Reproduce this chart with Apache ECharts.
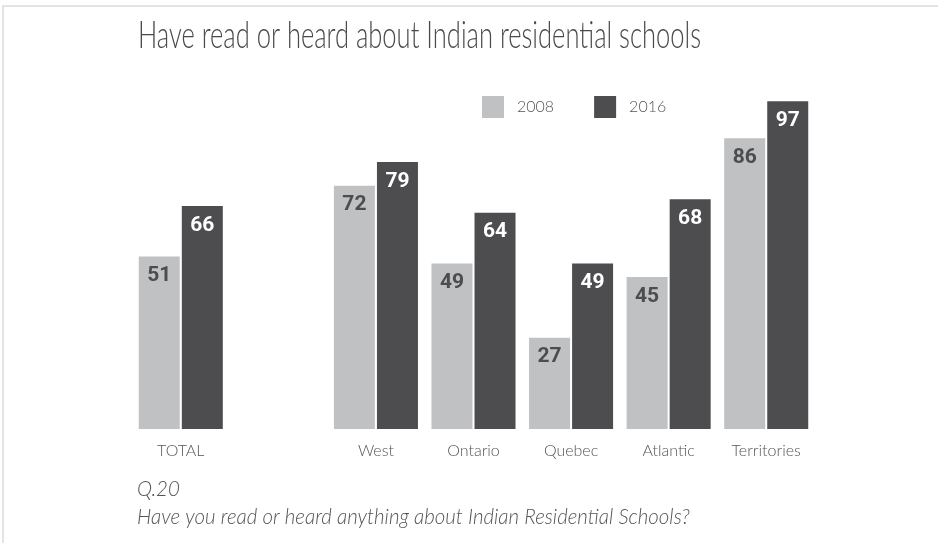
<!DOCTYPE html>
<html>
<head>
<meta charset="utf-8">
<script src="https://cdn.jsdelivr.net/npm/echarts@6/dist/echarts.min.js"></script>
<style>
  html, body { margin: 0; padding: 0; background: #fff; }
  #chart { width: 938px; height: 543px; }
</style>
</head>
<body>
<div id="chart"></div>
<script>
// regions (blank slot keeps the gap after TOTAL)
const regions = ['TOTAL', '', 'West', 'Ontario', 'Quebec', 'Atlantic', 'Territories']
const y2008 = [51, null, 72, 49, 27, 45, 86]
const y2016 = [66, null, 79, 64, 49, 68, 97]

const thin = 'Lato, "Open Sans", sans-serif'
const bold = 'Roboto, "Liberation Sans", sans-serif'
const light = '#c0c1c3'
const dark = '#4d4d4f'

const chart = echarts.init(document.getElementById('chart'))

const barLabel = (color) => ({
  show: true,
  position: 'insideTop',
  distance: 9,
  color: color,
  fontFamily: bold,
  fontWeight: 'bold',
  fontSize: 21
})

chart.setOption({
  backgroundColor: '#fff',
  animation: false,
  legend: {
    left: 477,
    top: 91,
    itemWidth: 22,
    itemHeight: 22,
    itemGap: 40,
    icon: 'rect',
    textStyle: {
      fontFamily: thin,
      fontWeight: 300,
      fontSize: 16,
      color: '#555',
      padding: [0, 0, 0, 8]
    }
  },
  grid: {
    left: 132,
    right: 123,
    top: 91,
    bottom: 114
  },
  xAxis: {
    type: 'category',
    data: regions,
    axisLine: { show: false },
    axisTick: { show: false },
    axisLabel: {
      interval: 0,
      margin: 14,
      fontFamily: thin,
      fontWeight: 300,
      fontSize: 16,
      color: '#555'
    }
  },
  yAxis: {
    type: 'value',
    min: 0,
    max: 100,
    show: false,
    splitLine: { show: false }
  },
  series: [
    {
      name: '2008',
      type: 'bar',
      data: y2008,
      barWidth: 41,
      barGap: '5%',
      itemStyle: { color: light },
      label: barLabel(dark)
    },
    {
      name: '2016',
      type: 'bar',
      data: y2016,
      barWidth: 41,
      itemStyle: { color: dark },
      label: barLabel('#fff')
    }
  ],
  graphic: [
    {
      type: 'polyline',
      shape: { points: [[3, 543], [3, 6], [938, 6]] },
      style: { stroke: '#dcdcdc', lineWidth: 1.5, fill: null }
    },
    {
      type: 'text',
      x: 138,
      y: 18,
      scaleX: 0.69,
      style: {
        text: 'Have read or heard about Indian residential schools',
        fontFamily: thin,
        fontWeight: 300,
        fontSize: 37,
        fill: '#4a4a4a',
        verticalAlign: 'top'
      }
    },
    {
      type: 'text',
      x: 137,
      y: 478,
      scaleX: 0.93,
      style: {
        text: 'Q.20',
        fontFamily: thin,
        fontWeight: 300,
        fontStyle: 'italic',
        fontSize: 22,
        fill: '#555',
        verticalAlign: 'top'
      }
    },
    {
      type: 'text',
      x: 137,
      y: 506,
      scaleX: 0.93,
      style: {
        text: 'Have you read or heard anything about Indian Residential Schools?',
        fontFamily: thin,
        fontWeight: 300,
        fontStyle: 'italic',
        fontSize: 22,
        fill: '#555',
        verticalAlign: 'top'
      }
    }
  ]
})

window.addEventListener('resize', () => chart.resize())
</script>
</body>
</html>
